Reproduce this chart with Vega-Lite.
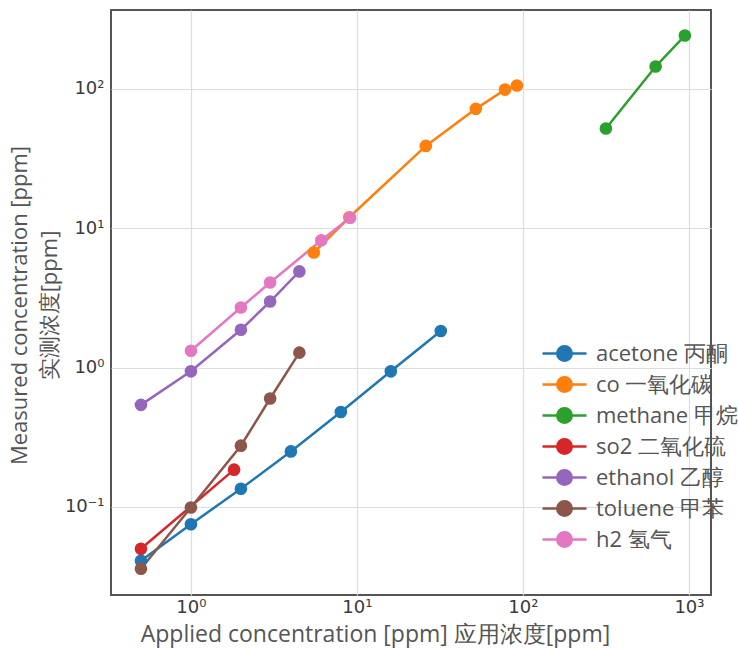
{
  "$schema": "https://vega.github.io/schema/vega-lite/v6.json",
  "width": 600,
  "height": 585,
  "autosize": {"type": "none"},
  "padding": {"left": 111, "top": 10, "right": 27, "bottom": 53},
  "background": "white",
  "config": {
    "view": {"stroke": "#555555", "strokeWidth": 2},
    "axis": {
      "grid": true,
      "gridColor": "#dddddd",
      "gridWidth": 1.2,
      "ticks": false,
      "domain": false,
      "labelFont": "DejaVu Sans",
      "labelFontSize": 18,
      "labelColor": "#3a3a3a",
      "titleFont": "Open Sans",
      "titleFontWeight": "normal",
      "titleColor": "#555555"
    }
  },
  "data": {
    "values": [
      {"gas": "acetone 丙酮", "applied": 0.5, "measured": 0.041},
      {"gas": "acetone 丙酮", "applied": 1, "measured": 0.075},
      {"gas": "acetone 丙酮", "applied": 2, "measured": 0.135},
      {"gas": "acetone 丙酮", "applied": 4, "measured": 0.25},
      {"gas": "acetone 丙酮", "applied": 8, "measured": 0.48},
      {"gas": "acetone 丙酮", "applied": 16, "measured": 0.94},
      {"gas": "acetone 丙酮", "applied": 32, "measured": 1.83},
      {"gas": "co 一氧化碳", "applied": 5.5, "measured": 6.7},
      {"gas": "co 一氧化碳", "applied": 9, "measured": 12},
      {"gas": "co 一氧化碳", "applied": 26, "measured": 39},
      {"gas": "co 一氧化碳", "applied": 52, "measured": 72},
      {"gas": "co 一氧化碳", "applied": 78, "measured": 99},
      {"gas": "co 一氧化碳", "applied": 92, "measured": 106},
      {"gas": "methane 甲烷", "applied": 316, "measured": 52},
      {"gas": "methane 甲烷", "applied": 630, "measured": 145},
      {"gas": "methane 甲烷", "applied": 945, "measured": 242},
      {"gas": "so2 二氧化硫", "applied": 0.5, "measured": 0.05},
      {"gas": "so2 二氧化硫", "applied": 1.82, "measured": 0.185},
      {"gas": "ethanol 乙醇", "applied": 0.5, "measured": 0.54},
      {"gas": "ethanol 乙醇", "applied": 1, "measured": 0.94},
      {"gas": "ethanol 乙醇", "applied": 2, "measured": 1.87},
      {"gas": "ethanol 乙醇", "applied": 3, "measured": 2.98},
      {"gas": "ethanol 乙醇", "applied": 4.5, "measured": 4.9},
      {"gas": "toluene 甲苯", "applied": 0.5, "measured": 0.036},
      {"gas": "toluene 甲苯", "applied": 1, "measured": 0.099},
      {"gas": "toluene 甲苯", "applied": 2, "measured": 0.275},
      {"gas": "toluene 甲苯", "applied": 3, "measured": 0.6},
      {"gas": "toluene 甲苯", "applied": 4.5, "measured": 1.28},
      {"gas": "h2 氢气", "applied": 1, "measured": 1.32},
      {"gas": "h2 氢气", "applied": 2, "measured": 2.7},
      {"gas": "h2 氢气", "applied": 3, "measured": 4.08},
      {"gas": "h2 氢气", "applied": 6.1, "measured": 8.2},
      {"gas": "h2 氢气", "applied": 9.1, "measured": 11.9}
    ]
  },
  "encoding": {
    "x": {
      "field": "applied",
      "type": "quantitative",
      "scale": {"type": "log", "domain": [0.33, 1358], "nice": false},
      "axis": {
        "values": [1, 10, 100, 1000],
        "labelExpr": "datum.value == 1 ? '10⁰' : datum.value == 10 ? '10¹' : datum.value == 100 ? '10²' : '10³'",
        "labelPadding": 3,
        "title": "Applied concentration [ppm] 应用浓度[ppm]",
        "titleFontSize": 23,
        "titleX": 264,
        "titleY": 39,
        "titleAlign": "center",
        "titleBaseline": "middle"
      }
    },
    "y": {
      "field": "measured",
      "type": "quantitative",
      "scale": {"type": "log", "domain": [0.0233, 369], "nice": false},
      "axis": {
        "values": [0.1, 1, 10, 100],
        "labelExpr": "datum.value < 0.5 ? '10⁻¹' : datum.value < 5 ? '10⁰' : datum.value < 50 ? '10¹' : '10²'",
        "labelPadding": 7,
        "title": ["Measured concentration [ppm]", "实测浓度[ppm]"],
        "titleFontSize": 22,
        "titleLineHeight": 30,
        "titleAngle": -90,
        "titleX": -92,
        "titleY": 295,
        "titleAlign": "center",
        "titleBaseline": "middle"
      }
    },
    "color": {
      "field": "gas",
      "type": "nominal",
      "scale": {
        "domain": ["acetone 丙酮", "co 一氧化碳", "methane 甲烷", "so2 二氧化硫", "ethanol 乙醇", "toluene 甲苯", "h2 氢气"],
        "range": ["#1f77b4", "#ff7f0e", "#2ca02c", "#d62728", "#9467bd", "#8c564b", "#e377c2"]
      },
      "legend": {
        "orient": "none",
        "legendX": 441,
        "legendY": 331,
        "title": null,
        "symbolType": "M-2,0L2,0M-0.66,0A0.66,0.66 0 1,1 0.66,0A0.66,0.66 0 1,1 -0.66,0Z",
        "symbolSize": 484,
        "symbolStrokeWidth": 2.5,
        "symbolOpacity": 1,
        "labelFont": "Open Sans",
        "labelFontSize": 22,
        "labelColor": "#555555",
        "labelOffset": 19,
        "labelLimit": 300,
        "rowPadding": 6,
        "encode": {
          "symbols": {
            "update": {
              "fill": {"scale": "color", "field": "value"},
              "stroke": {"scale": "color", "field": "value"}
            }
          }
        }
      }
    }
  },
  "layer": [
    {"mark": {"type": "line", "strokeWidth": 2.5}},
    {"mark": {"type": "circle", "size": 160, "opacity": 1}}
  ]
}
